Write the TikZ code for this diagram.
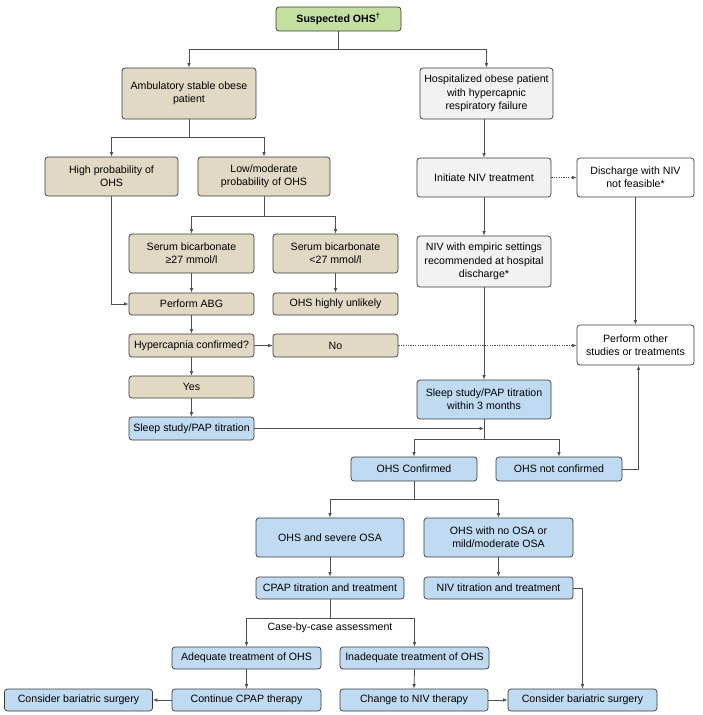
\documentclass[tikz,border=0pt]{standalone}
\usepackage{fontspec}
\setmainfont{Liberation Sans}
\usetikzlibrary{arrows.meta}
\definecolor{greenc}{HTML}{C4DFA2}
\definecolor{tanc}{HTML}{E1D9C4}
\definecolor{grayc}{HTML}{F2F2F2}
\definecolor{bluec}{HTML}{C0DAF2}
\definecolor{bordc}{HTML}{3A3A3A}
\definecolor{linec}{HTML}{505050}
\tikzset{
  box/.style={draw=bordc, line width=0.7pt, rounded corners=3pt, align=center, inner sep=1pt,
    font=\fontsize{10.6}{13.3}\selectfont},
  sz/.style 2 args={minimum width=#1pt, minimum height=#2pt},
  greenbox/.style={box, fill=greenc},
  tanbox/.style={box, fill=tanc},
  graybox/.style={box, fill=grayc},
  whitebox/.style={box, fill=white},
  bluebox/.style={box, fill=bluec},
  arr/.style={draw=linec, line width=0.8pt, -{Latex[length=4.5pt,width=3.6pt]}},
  ln/.style={draw=linec, line width=0.8pt},
  dotarr/.style={arr, dash pattern=on 1.2pt off 1.2pt},
  lbltext/.style={font=\fontsize{10.6}{13.3}\selectfont, inner sep=1pt}
}
\begin{document}
\begin{tikzpicture}[x=1pt,y=-1pt]
\useasboundingbox[fill=white] (0,0) rectangle (702,715);
% nodes
\node[greenbox, sz={125}{24}] (sus) at (338.5,19) {\textbf{Suspected OHS\textsuperscript{\textdagger}}};
\node[tanbox, sz={134}{51}] (amb) at (189,93.5) {Ambulatory stable obese\\patient};
\node[graybox, sz={133}{51}] (hosp) at (486.5,93.5) {Hospitalized obese patient\\with hypercapnic\\respiratory failure};
\node[tanbox, sz={133}{39}] (high) at (111.5,176.5) {High probability of\\OHS};
\node[tanbox, sz={132}{39}] (low) at (264,176.5) {Low/moderate\\probability of OHS};
\node[tanbox, sz={125}{39}] (sb1) at (191.5,253.5) {Serum bicarbonate\\≥27 mmol/l};
\node[tanbox, sz={125}{39}] (sb2) at (335.5,253.5) {Serum bicarbonate\\<27 mmol/l};
\node[tanbox, sz={125}{22}] (abg) at (191.5,304) {Perform ABG};
\node[tanbox, sz={125}{22}] (unl) at (335.5,304) {OHS highly unlikely};
\node[tanbox, sz={125}{23}] (hyp) at (191.5,345.5) {Hypercapnia confirmed?};
\node[tanbox, sz={125}{23}] (no) at (335.5,345.5) {No};
\node[tanbox, sz={125}{22}] (yes) at (191.5,387) {Yes};
\node[bluebox, sz={125}{23}] (sl1) at (191.5,428.5) {Sleep study/PAP titration};
\node[graybox, sz={134}{39}] (init) at (484,177.5) {Initiate NIV treatment};
\node[whitebox, sz={117}{39}] (dis) at (635.5,177.5) {Discharge with NIV\\not feasible*};
\node[graybox, sz={134}{51}] (emp) at (484,261.5) {NIV with empiric settings\\recommended at hospital\\discharge*};
\node[whitebox, sz={117}{40}] (oth) at (635.5,345) {Perform other\\studies or treatments};
\node[bluebox, sz={134}{39}] (sl3) at (484,399.5) {Sleep study/PAP titration\\within 3 months};
\node[bluebox, sz={126}{24}] (conf) at (414,469) {OHS Confirmed};
\node[bluebox, sz={126}{24}] (nconf) at (559,469) {OHS not confirmed};
\node[bluebox, sz={148}{39}] (sev) at (330,537.5) {OHS and severe OSA};
\node[bluebox, sz={149}{39}] (mild) at (498.5,537.5) {OHS with no OSA or\\mild/moderate OSA};
\node[bluebox, sz={148}{22}] (cpap) at (330,588) {CPAP titration and treatment};
\node[bluebox, sz={149}{22}] (nivt) at (498.5,588) {NIV titration and treatment};
\node[lbltext] (lbl) at (330,628) {Case-by-case assessment};
\node[bluebox, sz={149}{22}] (adeq) at (246.5,658) {Adequate treatment of OHS};
\node[bluebox, sz={149}{22}] (inad) at (414.5,658) {Inadequate treatment of OHS};
\node[bluebox, sz={148}{22}] (bar1) at (78.5,700) {Consider bariatric surgery};
\node[bluebox, sz={149}{22}] (cont) at (246.5,700) {Continue CPAP therapy};
\node[bluebox, sz={148}{22}] (chg) at (414,700) {Change to NIV therapy};
\node[bluebox, sz={149}{22}] (bar2) at (582.5,700) {Consider bariatric surgery};
% connectors
\draw[arr] (sus.south) -- ++(0,18) -| (amb.north);
\draw[arr] (sus.south) -- ++(0,18) -| (hosp.north);
\draw[arr] (amb.south) -- ++(0,18) -| (high.north);
\draw[arr] (amb.south) -- ++(0,18) -| (low.north);
\draw[arr] (low.south) -- ++(0,20) -| (sb1.north);
\draw[arr] (low.south) -- ++(0,20) -| (sb2.north);
\draw[arr] (sb1.south) -- (abg.north);
\draw[arr] (sb2.south) -- (unl.north);
\draw[arr] (high.south) |- (abg.west);
\draw[arr] (abg.south) -- (hyp.north);
\draw[arr] (hyp.east) -- (no.west);
\draw[arr] (hyp.south) -- (yes.north);
\draw[arr] (yes.south) -- (sl1.north);
\draw[dotarr] (no.east) -- (no.east -| oth.west);
\draw[arr] (sl1.east) -- (sl1.east -| sl3.south);
\draw[arr] (init.north |- hosp.south) -- (init.north);
\draw[dotarr] (init.east) -- (dis.west);
\draw[arr] (init.south) -- (emp.north);
\draw[arr] (emp.south) -- (sl3.north);
\draw[arr] (dis.south) -- (oth.north);
\draw[arr] (sl3.south) -- ++(0,20) -| (conf.north);
\draw[arr] (sl3.south) -- ++(0,20) -| (nconf.north);
\draw[arr] (nconf.east) -| ([xshift=3pt]oth.south);
\draw[arr] (conf.south) -- ++(0,18) -| (sev.north);
\draw[arr] (conf.south) -- ++(0,18) -| (mild.north);
\draw[arr] (sev.south) -- (cpap.north);
\draw[arr] (mild.south) -- (nivt.north);
\draw[arr] (nivt.east) -| (bar2.north);
\draw[arr] (cpap.south) -- ++(0,19) -| (adeq.north);
\draw[arr] (cpap.south) -- ++(0,19) -| (inad.north);
\draw[arr] (adeq.south) -- (cont.north);
\draw[arr] (inad.south) -- (chg.north);
\draw[arr] (cont.west) -- (bar1.east);
\draw[arr] (chg.east) -- (bar2.west);
\end{tikzpicture}
\end{document}
